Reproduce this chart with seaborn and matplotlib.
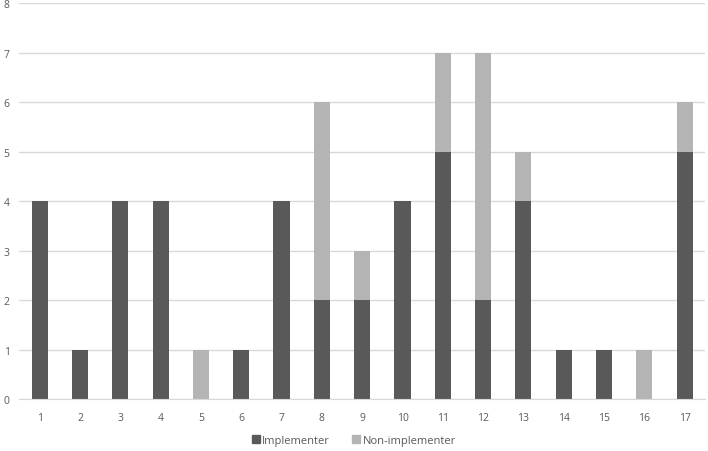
import matplotlib
matplotlib.use("Agg")
import matplotlib.pyplot as plt
import matplotlib.patches as mpatches
import pandas as pd
import seaborn as sns

categories = [str(i) for i in range(1, 18)]
implementer = [4, 1, 4, 4, 0, 1, 4, 2, 2, 4, 5, 2, 4, 1, 1, 0, 5]
non_implementer = [0, 0, 0, 0, 1, 0, 0, 4, 1, 0, 2, 5, 1, 0, 0, 1, 1]

dark = "#595959"
light = "#b4b4b4"

df = pd.DataFrame({"cat": categories, "impl": implementer, "non": non_implementer})
df["total"] = df["impl"] + df["non"]

sns.set_style("white")
plt.rcParams["font.family"] = ["Open Sans", "DejaVu Sans"]

fig = plt.figure(figsize=(7.08, 4.52), dpi=100)
ax = fig.add_axes([0.0275, 0.115, 0.968, 0.876])

sns.barplot(data=df, x="cat", y="total", color=light, width=0.4, saturation=1,
            linewidth=0, ax=ax)
sns.barplot(data=df, x="cat", y="impl", color=dark, width=0.4, saturation=1,
            linewidth=0, ax=ax)

ax.set_ylim(0, 8)
ax.set_xlim(-0.5, 16.5)
ax.set_yticks(range(0, 9))
ax.yaxis.grid(True, color="#d9d9d9", linewidth=1)
ax.set_axisbelow(True)
for s in ["top", "right", "left"]:
    ax.spines[s].set_visible(False)
ax.spines["bottom"].set_color("#d9d9d9")
ax.tick_params(axis="both", length=0, labelsize=7.5, colors="#595959")
ax.tick_params(axis="x", pad=9)
ax.tick_params(axis="y", pad=7)
ax.set_xlabel("")
ax.set_ylabel("")

handles = [mpatches.Patch(color=dark, label="Implementer"),
           mpatches.Patch(color=light, label="Non-implementer")]
fig.legend(handles=handles, loc="lower center", ncol=2, frameon=False,
           fontsize=8, labelcolor="#595959", handlelength=0.7, handleheight=0.7,
           handletextpad=0.2, columnspacing=2, bbox_to_anchor=(0.5, -0.01))

fig.savefig("out.png", dpi=100)
